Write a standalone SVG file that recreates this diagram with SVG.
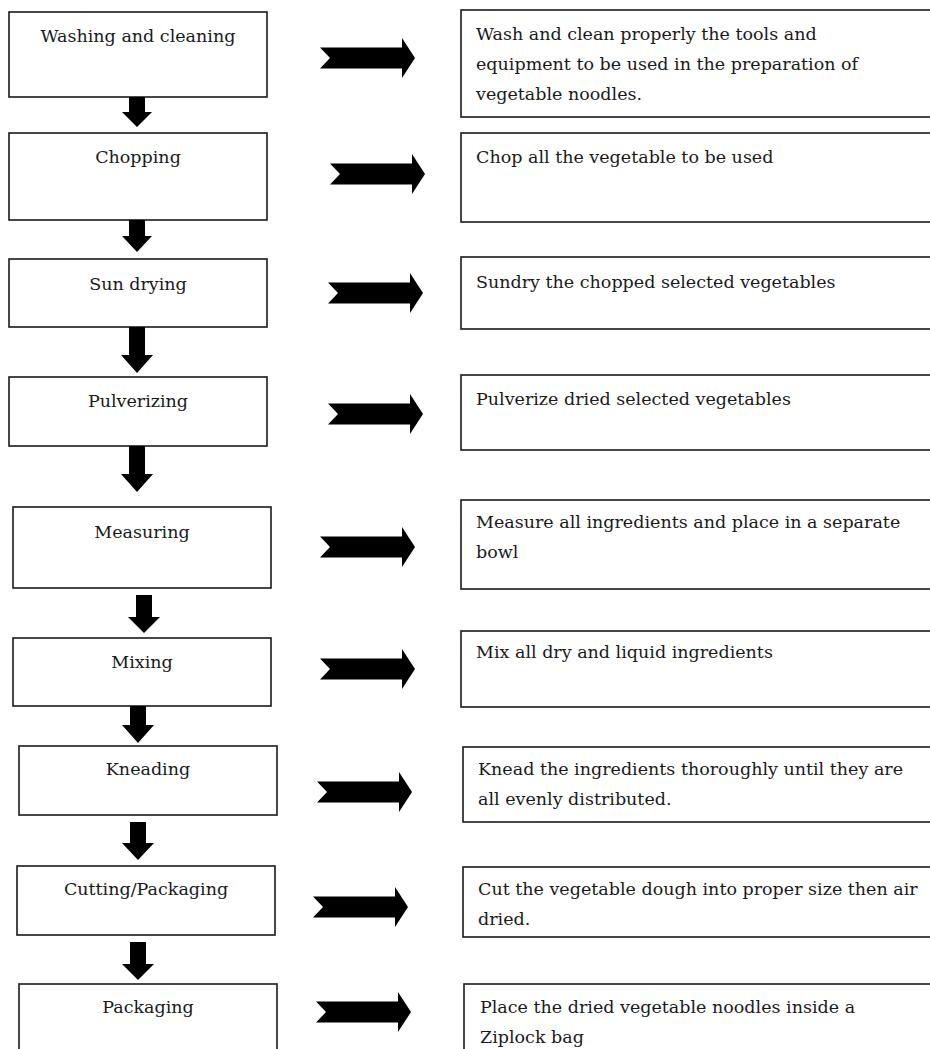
<svg xmlns="http://www.w3.org/2000/svg" xmlns:xlink="http://www.w3.org/1999/xlink" width="930" height="1049" viewBox="0 0 930 1049">
<style>
.box{fill:#fff;stroke:#1a1a1a;stroke-width:1.6}
.lbl{font-family:"DejaVu Serif","Liberation Serif",serif;font-size:17.5px;fill:#1a1a1a;text-anchor:middle}
.txt{font-family:"DejaVu Serif","Liberation Serif",serif;font-size:17.5px;fill:#1a1a1a}
.arr{fill:#000}
</style>
<defs>
<path id="rarrow" d="M0,-10.5 H82 V-20 L95,0 L82,20 V10.5 H0 L10,0 Z"/>
</defs>
<rect width="930" height="1049" fill="#fff"/>

<g id="step1"><rect class="box" x="9" y="12" width="258" height="85"/><text class="lbl" x="138" y="42">Washing and cleaning</text></g>
<g id="step2"><rect class="box" x="9" y="133" width="258" height="87"/><text class="lbl" x="138" y="163">Chopping</text></g>
<g id="step3"><rect class="box" x="9" y="259" width="258" height="68"/><text class="lbl" x="138" y="290">Sun drying</text></g>
<g id="step4"><rect class="box" x="9" y="377" width="258" height="69"/><text class="lbl" x="138" y="407">Pulverizing</text></g>
<g id="step5"><rect class="box" x="13" y="507" width="258" height="81"/><text class="lbl" x="142" y="538">Measuring</text></g>
<g id="step6"><rect class="box" x="13" y="638" width="258" height="68"/><text class="lbl" x="142" y="668">Mixing</text></g>
<g id="step7"><rect class="box" x="19" y="746" width="258" height="69"/><text class="lbl" x="148" y="775">Kneading</text></g>
<g id="step8"><rect class="box" x="17" y="866" width="258" height="69"/><text class="lbl" x="146" y="895">Cutting/Packaging</text></g>
<g id="step9"><rect class="box" x="19" y="984" width="258" height="80"/><text class="lbl" x="148" y="1013">Packaging</text></g>

<g id="desc1"><rect class="box" x="461" y="10" width="480" height="107"/><text class="txt" x="476" y="40">Wash and clean properly the tools and</text><text class="txt" x="476" y="70">equipment to be used in the preparation of</text><text class="txt" x="476" y="100">vegetable noodles.</text></g>
<g id="desc2"><rect class="box" x="461" y="133" width="480" height="89"/><text class="txt" x="476" y="163">Chop all the vegetable to be used</text></g>
<g id="desc3"><rect class="box" x="461" y="257" width="480" height="72"/><text class="txt" x="476" y="288">Sundry the chopped selected vegetables</text></g>
<g id="desc4"><rect class="box" x="461" y="375" width="480" height="75"/><text class="txt" x="476" y="405">Pulverize dried selected vegetables</text></g>
<g id="desc5"><rect class="box" x="461" y="500" width="480" height="89"/><text class="txt" x="476" y="528">Measure all ingredients and place in a separate</text><text class="txt" x="476" y="558">bowl</text></g>
<g id="desc6"><rect class="box" x="461" y="631" width="480" height="76"/><text class="txt" x="476" y="658">Mix all dry and liquid ingredients</text></g>
<g id="desc7"><rect class="box" x="463" y="747" width="480" height="75"/><text class="txt" x="478" y="775">Knead the ingredients thoroughly until they are</text><text class="txt" x="478" y="805">all evenly distributed.</text></g>
<g id="desc8"><rect class="box" x="463" y="867" width="480" height="70"/><text class="txt" x="478" y="895">Cut the vegetable dough into proper size then air</text><text class="txt" x="478" y="925">dried.</text></g>
<g id="desc9"><rect class="box" x="464" y="984" width="480" height="80"/><text class="txt" x="480" y="1013">Place the dried vegetable noodles inside a</text><text class="txt" x="480" y="1043">Ziplock bag</text></g>

<g id="connectors">
<path class="arr" d="M129,97 H145 V112 H152 L137,127 L122,112 H129 Z"/>
<path class="arr" d="M129,220 H145 V236 H152 L137,252 L122,236 H129 Z"/>
<path class="arr" d="M129,327 H145 V355 H153 L137,373 L121,355 H129 Z"/>
<path class="arr" d="M129,446 H145 V474 H153 L137,492 L121,474 H129 Z"/>
<path class="arr" d="M136,595 H152 V617 H160 L144,633 L128,617 H136 Z"/>
<path class="arr" d="M130,706 H146 V725 H154 L138,743 L122,725 H130 Z"/>
<path class="arr" d="M130,822 H146 V843 H154 L138,860 L122,843 H130 Z"/>
<path class="arr" d="M130,942 H146 V964 H154 L138,980 L122,964 H130 Z"/>
<use class="arr" xlink:href="#rarrow" transform="translate(320,58)"/>
<use class="arr" xlink:href="#rarrow" transform="translate(330,174)"/>
<use class="arr" xlink:href="#rarrow" transform="translate(328,293)"/>
<use class="arr" xlink:href="#rarrow" transform="translate(328,414)"/>
<use class="arr" xlink:href="#rarrow" transform="translate(320,547)"/>
<use class="arr" xlink:href="#rarrow" transform="translate(320,669)"/>
<use class="arr" xlink:href="#rarrow" transform="translate(317,792)"/>
<use class="arr" xlink:href="#rarrow" transform="translate(313,907)"/>
<use class="arr" xlink:href="#rarrow" transform="translate(316,1012)"/>
</g>
</svg>
